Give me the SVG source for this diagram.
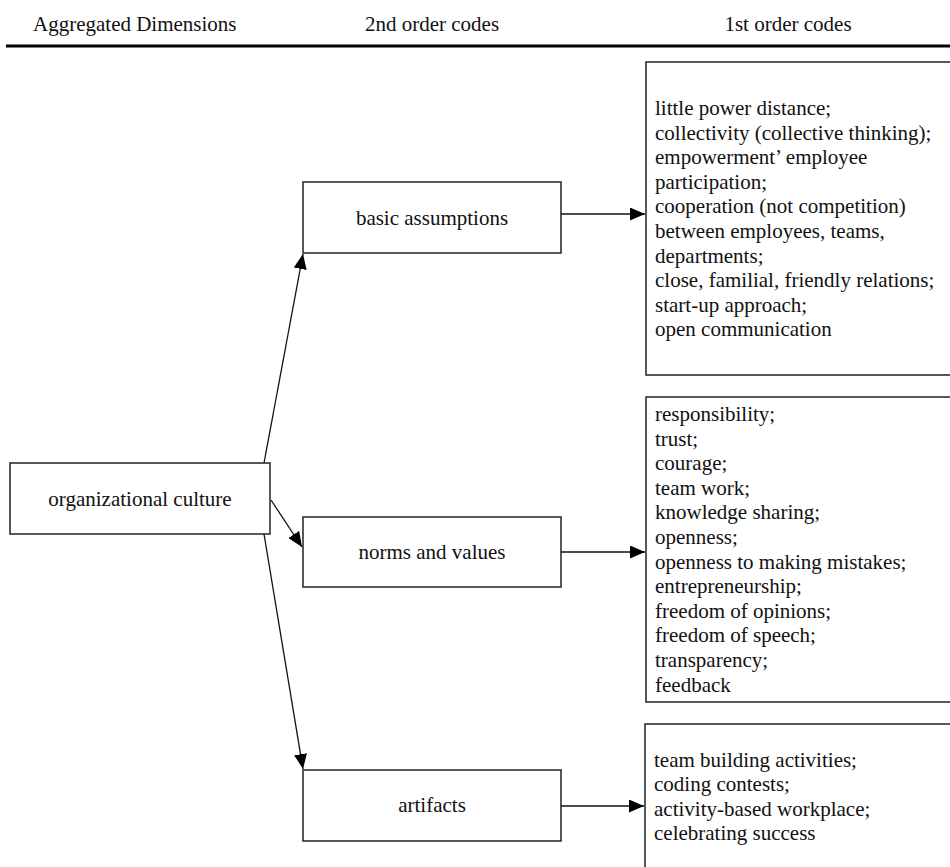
<svg xmlns="http://www.w3.org/2000/svg" width="950" height="867" viewBox="0 0 950 867">
<style>
text{font-family:"Liberation Serif","Times New Roman",serif;font-size:21px;fill:#111}
.box{fill:#fff;stroke:#222;stroke-width:1.5}
.mid{text-anchor:middle}
.conn{stroke:#111;stroke-width:1.3;fill:none;marker-end:url(#ah)}
</style>
<defs>
<marker id="ah" markerUnits="userSpaceOnUse" markerWidth="15" markerHeight="13" refX="15" refY="6.5" orient="auto">
<path d="M0,0 L15,6.5 L0,13 z" fill="#000"/>
</marker>
</defs>
<rect width="950" height="867" fill="#fff"/>
<g id="header">
<text x="33" y="31">Aggregated Dimensions</text>
<text x="432" y="31" class="mid">2nd order codes</text>
<text x="788" y="31" class="mid">1st order codes</text>
<line x1="6" y1="46" x2="950" y2="46" stroke="#000" stroke-width="3"/>
</g>
<g id="connectors">
<line class="conn" x1="264" y1="463" x2="303" y2="254"/>
<line class="conn" x1="271" y1="500" x2="302" y2="547"/>
<line class="conn" x1="264" y1="534" x2="303" y2="769"/>
<line class="conn" x1="561" y1="214" x2="645" y2="214"/>
<line class="conn" x1="561" y1="552" x2="645" y2="552"/>
<line class="conn" x1="561" y1="806" x2="644" y2="806"/>
</g>
<g id="organizational-culture">
<rect class="box" x="10" y="463" width="260" height="71"/>
<text x="140" y="506" class="mid">organizational culture</text>
</g>
<g id="basic-assumptions">
<rect class="box" x="303" y="182" width="258" height="71"/>
<text x="432" y="225" class="mid">basic assumptions</text>
</g>
<g id="norms-and-values">
<rect class="box" x="303" y="517" width="258" height="70"/>
<text x="432" y="559" class="mid">norms and values</text>
</g>
<g id="artifacts">
<rect class="box" x="303" y="770" width="258" height="71"/>
<text x="432" y="812" class="mid">artifacts</text>
</g>
<g id="codes-basic">
<rect class="box" x="646" y="62" width="320" height="313"/>
<text x="655" y="115">little power distance;</text>
<text x="655" y="140">collectivity (collective thinking);</text>
<text x="655" y="164">empowerment’ employee</text>
<text x="655" y="189">participation;</text>
<text x="655" y="213">cooperation (not competition)</text>
<text x="655" y="238">between employees, teams,</text>
<text x="655" y="263">departments;</text>
<text x="655" y="287">close, familial, friendly relations;</text>
<text x="655" y="312">start-up approach;</text>
<text x="655" y="336">open communication</text>
</g>
<g id="codes-norms">
<rect class="box" x="646" y="397" width="320" height="305"/>
<text x="655" y="421">responsibility;</text>
<text x="655" y="446">trust;</text>
<text x="655" y="470">courage;</text>
<text x="655" y="495">team work;</text>
<text x="655" y="519">knowledge sharing;</text>
<text x="655" y="544">openness;</text>
<text x="655" y="569">openness to making mistakes;</text>
<text x="655" y="593">entrepreneurship;</text>
<text x="655" y="618">freedom of opinions;</text>
<text x="655" y="642">freedom of speech;</text>
<text x="655" y="667">transparency;</text>
<text x="655" y="692">feedback</text>
</g>
<g id="codes-artifacts">
<rect class="box" x="645" y="724" width="320" height="160"/>
<text x="654" y="767">team building activities;</text>
<text x="654" y="791">coding contests;</text>
<text x="654" y="816">activity-based workplace;</text>
<text x="654" y="840">celebrating success</text>
</g>
</svg>
